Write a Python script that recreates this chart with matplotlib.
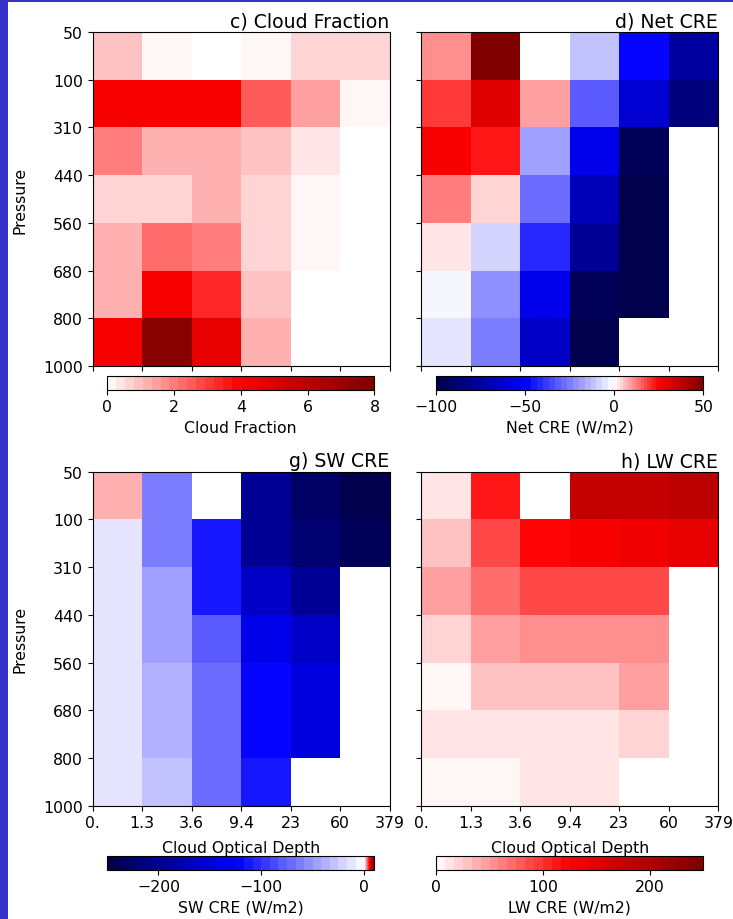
import numpy as np
import matplotlib
matplotlib.use("Agg")
import matplotlib.pyplot as plt
from matplotlib.colors import ListedColormap, BoundaryNorm
from matplotlib.patches import Rectangle
from matplotlib.ticker import NullLocator

nan = np.nan

# ---- data ----
tau_labels = ["0.", "1.3", "3.6", "9.4", "23", "60", "379"]
pres_labels = ["50", "100", "310", "440", "560", "680", "800", "1000"]

# rows: top (50-100) to bottom (800-1000); columns: tau bins
cloud_fraction = [
    [0.9, 0.2, nan, 0.2, 0.55, 0.55],
    [4.1, 4.1, 4.1, 2.6, 1.5, 0.2],
    [2.0, 1.25, 1.25, 0.9, 0.4, nan],
    [0.75, 0.75, 1.25, 0.75, 0.2, nan],
    [1.25, 2.15, 2.0, 0.75, 0.2, nan],
    [1.25, 4.1, 3.35, 0.95, nan, nan],
    [4.1, 7.6, 4.7, 1.1, nan, nan],
]
net_cre = [
    [11.5, 49.0, nan, -12.5, -47.0, -74.0],
    [19.3, 31.0, 9.3, -32.0, -63.0, -86.0],
    [25.0, 22.5, -18.6, -54.0, -94.5, nan],
    [12.5, 4.6, -28.0, -70.0, -99.0, nan],
    [3.0, -8.4, -42.0, -78.6, -99.0, nan],
    [-2.2, -22.6, -55.0, -96.0, -99.0, nan],
    [-5.4, -26.0, -64.0, -99.0, nan, nan],
]
sw_cre = [
    [1.6, -62.5, nan, -196.0, -229.0, -248.0],
    [-13.5, -62.5, -113.0, -195.0, -225.0, -236.0],
    [-13.5, -46.5, -109.0, -163.0, -196.0, nan],
    [-13.5, -46.5, -81.0, -135.0, -161.0, nan],
    [-13.5, -39.0, -72.0, -117.0, -150.0, nan],
    [-13.5, -39.0, -72.0, -117.0, -150.0, nan],
    [-13.5, -31.0, -72.0, -113.0, nan, nan],
]
lw_cre = [
    [12.5, 111.0, nan, 179.0, 179.0, 187.0],
    [33.0, 90.0, 125.0, 132.0, 140.0, 148.0],
    [46.0, 73.0, 90.0, 90.0, 90.0, nan],
    [23.0, 46.0, 54.0, 54.0, 54.0, nan],
    [7.5, 33.0, 33.0, 33.0, 42.0, nan],
    [12.5, 12.5, 12.5, 12.5, 23.0, nan],
    [5.0, 5.0, 12.5, 12.5, nan, nan],
]

# ---- colormaps ----
seis = plt.get_cmap("seismic", 60)
all_colors = seis(np.arange(60))
cmap_div = ListedColormap(all_colors)
cmap_pos = ListedColormap(all_colors[30:])


def div_bounds(vmin, vmax):
    return np.concatenate([np.linspace(vmin, 0, 31), np.linspace(0, vmax, 31)[1:]])


panels = [
    dict(data=cloud_fraction, title="c) Cloud Fraction", label="Cloud Fraction",
         cmap=cmap_pos, bounds=np.linspace(0, 8, 31), ticks=[0, 2, 4, 6, 8]),
    dict(data=net_cre, title="d) Net CRE", label="Net CRE (W/m2)",
         cmap=cmap_div, bounds=div_bounds(-100, 50), ticks=[-100, -50, 0, 50]),
    dict(data=sw_cre, title="g) SW CRE", label="SW CRE (W/m2)",
         cmap=cmap_div, bounds=div_bounds(-250, 10), ticks=[-200, -100, 0]),
    dict(data=lw_cre, title="h) LW CRE", label="LW CRE (W/m2)",
         cmap=cmap_pos, bounds=np.linspace(0, 250, 31), ticks=[0, 100, 200]),
]

W, H = 733, 920
fig = plt.figure(figsize=(W / 100, H / 100), dpi=100)
fig.patch.set_facecolor("#3531c9")
fig.patches.append(Rectangle((7.5 / W, 0), 1, 1 - 3.3 / H, transform=fig.transFigure,
                             facecolor="white", edgecolor="none", zorder=-10))

FS = 11.3
ax_lefts = [92.7, 421.3, 92.7, 421.3]
ax_tops = [33, 33, 472.7, 472.7]
ax_w, ax_h = 297, 334
cb_lefts = [107, 436, 107, 436]
cb_tops = [376.7, 376.7, 856.7, 856.7]
cb_w, cb_h = 267.5, 14

for i, p in enumerate(panels):
    ax = fig.add_axes([ax_lefts[i] / W, 1 - (ax_tops[i] + ax_h) / H, ax_w / W, ax_h / H])
    arr = np.ma.masked_invalid(np.array(p["data"], dtype=float))
    norm = BoundaryNorm(p["bounds"], ncolors=p["cmap"].N)
    xe = np.arange(len(tau_labels))
    ye = np.arange(len(pres_labels))
    mesh = ax.pcolormesh(xe, ye, arr, cmap=p["cmap"], norm=norm)
    ax.set_xlim(0, len(tau_labels) - 1)
    ax.set_ylim(len(pres_labels) - 1, 0)
    ax.set_xticks(xe)
    ax.set_yticks(ye)
    if i >= 2:
        ax.set_xticklabels(tau_labels, fontsize=FS)
        ax.set_xlabel("Cloud Optical Depth", fontsize=FS, labelpad=7)
    else:
        ax.set_xticklabels([])
    if i % 2 == 0:
        ax.set_yticklabels(pres_labels, fontsize=FS)
        ax.set_ylabel("Pressure", fontsize=FS, labelpad=11)
    else:
        ax.set_yticklabels([])
    ax.set_title(p["title"], loc="right", fontsize=13.6, pad=4)

    cax = fig.add_axes([cb_lefts[i] / W, 1 - (cb_tops[i] + cb_h) / H, cb_w / W, cb_h / H])
    cb = fig.colorbar(mesh, cax=cax, orientation="horizontal", spacing="proportional",
                      ticks=p["ticks"])
    cb.ax.xaxis.set_minor_locator(NullLocator())
    cb.ax.tick_params(labelsize=FS)
    cb.set_label(p["label"], fontsize=FS)

fig.savefig("out.png", dpi=100)
